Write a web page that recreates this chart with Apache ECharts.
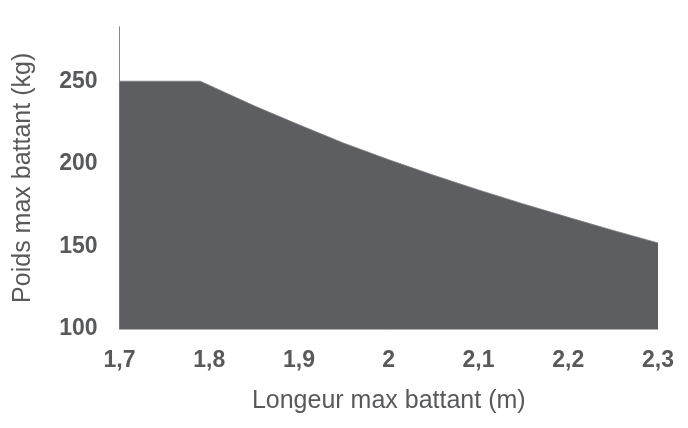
<!DOCTYPE html>
<html>
<head>
<meta charset="utf-8">
<script src="https://cdn.jsdelivr.net/npm/echarts@6/dist/echarts.min.js"></script>
<style>
html,body{margin:0;padding:0;background:#fff;}
#c{width:688px;height:428px;}
</style>
</head>
<body>
<div id="c"></div>
<script>
// Longueur max battant (m)
const lengths = [1.70, 1.79, 1.85, 1.90, 1.95, 2.00, 2.05, 2.10, 2.15, 2.20, 2.25, 2.30];
// Poids max battant (kg)
const weights = [250, 250, 235.1, 223.6, 212.5, 202.5, 193.1, 184.2, 175.7, 167.6, 159.7, 152.1];
const xTicks = [1.7, 1.8, 1.9, 2.0, 2.1, 2.2, 2.3];
const yTicks = [100, 150, 200, 250];

const textColor = '#58595b';
const fontFam = '"Liberation Sans", Arial, Helvetica, sans-serif';

const chart = echarts.init(document.getElementById('c'), null, {renderer: 'canvas'});
chart.setOption({
  animation: false,
  grid: {left: 119.5, right: 30, top: 26.7, bottom: 99},
  xAxis: {
    type: 'value',
    min: 1.7, max: 2.3, interval: 0.1,
    name: 'Longeur max battant (m)',
    nameLocation: 'middle',
    nameGap: 60,
    nameTextStyle: {color: textColor, fontSize: 25, fontFamily: fontFam},
    axisLine: {show: true, lineStyle: {color: '#b0b0b2', width: 1}},
    axisTick: {show: false},
    splitLine: {show: false},
    axisLabel: {
      color: textColor, fontSize: 23, fontWeight: 'bold', fontFamily: fontFam, margin: 20,
      formatter: function (v) {
        const r = Math.round(v * 10) / 10;
        const hit = xTicks.some(t => Math.abs(t - r) < 1e-6);
        return hit ? String(r).replace('.', ',') : '';
      }
    }
  },
  yAxis: {
    type: 'value',
    min: 100, max: 283, interval: 50,
    name: 'Poids max battant (kg)',
    nameLocation: 'middle',
    nameGap: 84,
    nameTextStyle: {color: textColor, fontSize: 25, fontFamily: fontFam},
    axisLine: {show: true, lineStyle: {color: '#8a8a8c', width: 1}},
    axisTick: {show: false},
    splitLine: {show: false},
    axisLabel: {
      color: textColor, fontSize: 23, fontWeight: 'bold', fontFamily: fontFam, margin: 22,
      formatter: function (v) {
        return yTicks.indexOf(Math.round(v)) >= 0 && Math.abs(v - Math.round(v)) < 1e-6 ? String(Math.round(v)) : '';
      }
    }
  },
  series: [{
    type: 'line',
    data: lengths.map((x, i) => [x, weights[i]]),
    showSymbol: false,
    smooth: false,
    lineStyle: {color: '#7a7b7e', width: 0.8},
    areaStyle: {color: '#5d5e62', opacity: 1, origin: 'start'}
  }]
});
</script>
</body>
</html>
